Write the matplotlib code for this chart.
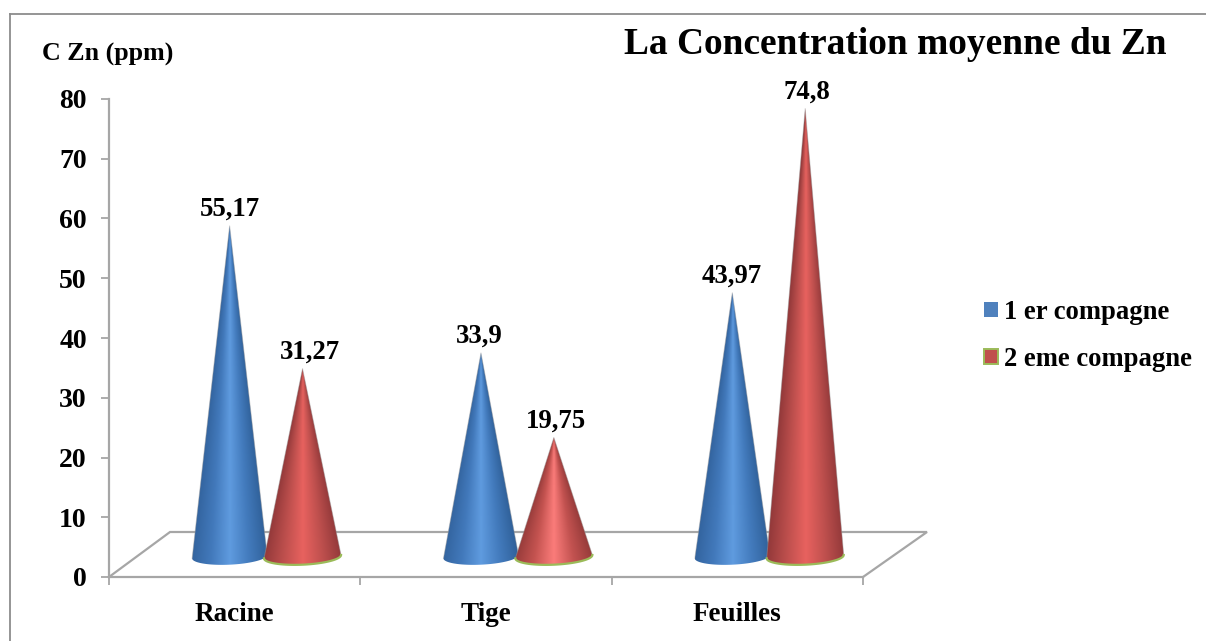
"""Zn concentration cones, drawn on a fake 3D floor like the Excel original."""

import matplotlib

matplotlib.use("Agg")
import matplotlib.pyplot as plt
import numpy as np
from matplotlib.colors import LinearSegmentedColormap
from matplotlib.lines import Line2D
from matplotlib.patches import Patch, Polygon

W, H = 1206, 641

CATEGORIES = ["Racine", "Tige", "Feuilles"]
SERIES_NAMES = ["1 er compagne", "2 eme compagne"]
VALUES_1 = [55.17, 33.9, 43.97]
VALUES_2 = [31.27, 19.75, 74.8]
LABELS_1 = ["55,17", "33,9", "43,97"]
LABELS_2 = ["31,27", "19,75", "74,8"]
Y_TICKS = [0, 10, 20, 30, 40, 50, 60, 70, 80]

GRID = "#a6a6a6"
FRAME = "#8c8c8c"
INK = "#000000"
BLUE = LinearSegmentedColormap.from_list(
    "cone_blue", ["#33649f", "#4279bb", "#5f9bdf", "#437bbd", "#30619a"]
)
RED = LinearSegmentedColormap.from_list(
    "cone_red", ["#93393a", "#bd4f4d", "#e8625f", "#bf504e", "#93393a"]
)
RED_TIGE = LinearSegmentedColormap.from_list(
    "cone_red_tige", ["#963b3a", "#c45350", "#fb7c7a", "#c25250", "#963b3a"]
)
GREEN = "#9bbb59"

DEPTH = 3.6  # cone bases sit on the floor, so tips are raised by this much
PX_X = 251.3  # pixels per category
PX_Y = 5.975  # pixels per y unit


def fx(px):
    return px / W


def fy(px):
    return 1 - px / H


def draw_cone(ax, cx, value, cmap, half_w, rim=None):
    """Cone with a tilted elliptical base, shaded across its local width."""
    tip = value + DEPTH
    base = 3.4
    half_h = 8 / PX_Y
    tilt = 1.7 / PX_Y
    t = np.linspace(0, np.pi, 60)
    arc_x = cx + half_w * np.cos(t)
    arc_y = base + tilt * np.cos(t) - half_h * np.sin(t)
    verts = np.column_stack([np.r_[cx, arc_x], np.r_[tip, arc_y]])
    clip = Polygon(verts, closed=True, transform=ax.transData, fc="none", ec="none")
    ax.add_patch(clip)

    xs = np.linspace(cx - half_w, cx + half_w, 160)
    ys = np.linspace(base - half_h - 0.3, tip, 260)
    gx, gy = np.meshgrid(xs, ys)
    local = np.clip((tip - gy) / (tip - base), 0.004, None) * half_w
    shade = np.clip((gx - cx) / local, -1, 1) * 0.5 + 0.5
    im = ax.imshow(
        shade, cmap=cmap, origin="lower", aspect="auto", interpolation="bilinear",
        extent=(xs[0], xs[-1], ys[0], ys[-1]), zorder=3, vmin=0, vmax=1,
    )
    im.set_clip_path(clip)
    ax.plot([arc_x[0], cx, arc_x[-1]], [arc_y[0], tip, arc_y[-1]],
            color="#9a9a9a", lw=0.7, alpha=0.45, zorder=3, clip_on=False)
    if rim:
        ax.plot(arc_x, arc_y, color=rim, lw=1.6, zorder=4, clip_on=False)


def main():
    plt.rcParams["font.family"] = ["Liberation Serif", "DejaVu Serif"]
    plt.rcParams["font.weight"] = "bold"

    fig = plt.figure(figsize=(W / 100, H / 100), dpi=100, facecolor="white")
    ax = fig.add_axes([fx(109), fy(577), fx(863) - fx(109), fy(99) - fy(577)])
    ax.patch.set_alpha(0)

    # outer chart frame, only top and left are inside the crop
    fig.add_artist(Line2D([fx(9.5), fx(9.5)], [0, fy(13.5)], color=FRAME, lw=1.3))
    fig.add_artist(Line2D([fx(9.5), 1], [fy(13.5), fy(13.5)], color=FRAME, lw=1.3))

    # floor
    n = len(CATEGORIES)
    back_y = 45 / PX_Y
    ax.plot([0, 61 / PX_X, n + 64 / PX_X, n], [0, back_y, back_y, 0],
            color=GRID, lw=1.6, clip_on=False, zorder=1, solid_joinstyle="miter")

    for i in range(n):
        center = i + 0.5
        reds = RED_TIGE if CATEGORIES[i] == "Tige" else RED
        draw_cone(ax, center - 0.02, VALUES_1[i], BLUE, 37.5 / PX_X)
        draw_cone(ax, center + 0.27, VALUES_2[i], reds, 38.5 / PX_X, rim=GREEN)

    nudge_1 = [0, -1.5, -0.5]
    nudge_2 = [5, 1.5, 1.5]
    for i in range(n):
        for x, v, s, dx in (
            (i + 0.48, VALUES_1[i], LABELS_1[i], nudge_1[i]),
            (i + 0.77, VALUES_2[i], LABELS_2[i], nudge_2[i]),
        ):
            ax.annotate(s, (x, v + DEPTH), xytext=(dx, 3), textcoords="offset points",
                        ha="center", va="bottom", fontsize=19.3, color=INK, zorder=5)

    ax.set_xlim(0, n)
    ax.set_ylim(0, 80)
    ax.set_yticks(Y_TICKS)
    ax.set_xticks(range(n + 1))
    ax.set_xticklabels([])
    ax.set_xticks([i + 0.5 for i in range(n)], minor=True)
    ax.set_xticklabels(CATEGORIES, minor=True, fontsize=19.5, color=INK)
    ax.tick_params(axis="x", which="major", length=6, width=1.3, color=GRID)
    ax.tick_params(axis="x", which="minor", length=0, pad=18)
    ax.tick_params(axis="y", length=6, width=1.3, color=GRID, pad=10, labelsize=20, labelcolor=INK)
    for side in ("top", "right"):
        ax.spines[side].set_visible(False)
    for side in ("left", "bottom"):
        ax.spines[side].set_color(GRID)
        ax.spines[side].set_linewidth(1.6)

    fig.text(fx(42), fy(54), "C Zn (ppm)", fontsize=18.7, color=INK, ha="left", va="center")
    fig.text(fx(624), fy(44), "La Concentration moyenne du Zn", fontsize=26.9,
             color=INK, ha="left", va="center")

    handles = [
        Patch(facecolor="#4f81bd", edgecolor="#4f81bd", lw=0),
        Patch(facecolor="#c0504d", edgecolor=GREEN, lw=1.4),
    ]
    fig.legend(
        handles, SERIES_NAMES, loc="center left", bbox_to_anchor=(fx(984), fy(336)),
        frameon=False, fontsize=19.2, handlelength=0.52, handleheight=0.52,
        handletextpad=0.22, labelspacing=0.83, borderpad=0, borderaxespad=0,
    )

    fig.savefig("out.png", dpi=100, facecolor="white")


if __name__ == "__main__":
    main()
